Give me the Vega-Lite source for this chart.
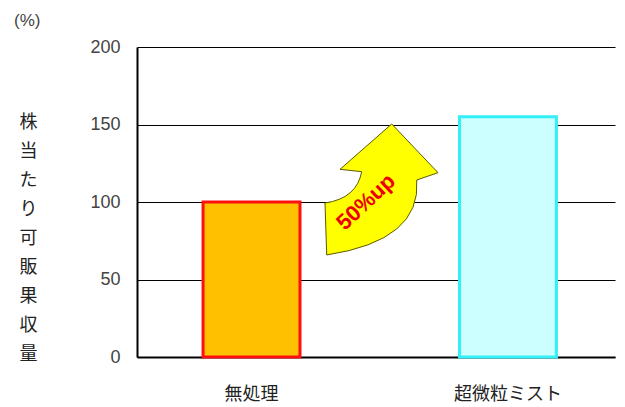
{
  "$schema": "https://vega.github.io/schema/vega-lite/v6.json",
  "autosize": {"type": "none"},
  "width": 478,
  "height": 310,
  "padding": {"left": 137, "top": 47, "right": 10, "bottom": 50},
  "background": "white",
  "config": {"view": {"stroke": null}, "font": "Noto Sans CJK JP"},
  "title": {"text": "(%)", "anchor": "start", "frame": "group", "dx": -123, "offset": 8, "fontSize": 17, "fontWeight": "normal", "color": "#444444", "font": "Liberation Sans"},
  "datasets": {
    "bars": [
      {"treatment": "無処理", "value": 100},
      {"treatment": "超微粒ミスト", "value": 155}
    ],
    "arrow": [
      {"label": "50%up", "ax": 0.5126, "ay": 108.4, "tx": 0.479, "ty": 100}
    ]
  },
  "layer": [
    {
      "data": {"name": "bars"},
      "mark": {"type": "bar", "strokeWidth": 3},
      "encoding": {
        "x": {
          "field": "treatment", "type": "nominal", "sort": null,
          "scale": {"paddingInner": 0.622, "paddingOuter": 0.243, "align": 0.53},
          "axis": {"title": null, "labelAngle": 0, "ticks": false, "domainColor": "black", "domainWidth": 2, "labelFontSize": 18, "labelColor": "#222222", "labelPadding": 28, "labelFont": "Noto Sans CJK JP"}
        },
        "y": {
          "field": "value", "type": "quantitative",
          "scale": {"domain": [0, 200]},
          "axis": {
            "values": [0, 50, 100, 150, 200],
            "grid": true, "gridColor": "black", "gridWidth": 1, "gridOpacity": 1,
            "ticks": false, "domainColor": "black", "domainWidth": 2,
            "labelFontSize": 18, "labelColor": "#444444", "labelPadding": 17, "labelFont": "Liberation Sans",
            "title": ["株", "当", "た", "り", "可", "販", "果", "収", "量"],
            "titleAngle": 0, "titleAlign": "center", "titleBaseline": "top",
            "titleX": -109, "titleY": 66, "titleFontSize": 18, "titleFontWeight": "normal",
            "titleLineHeight": 29, "titleColor": "#222222", "titleFont": "Noto Sans CJK JP"
          }
        },
        "color": {"field": "treatment", "type": "nominal", "sort": null, "scale": {"range": ["#FFC000", "#CCFFFF"]}, "legend": null},
        "stroke": {"field": "treatment", "type": "nominal", "sort": null, "scale": {"range": ["#FF1010", "#33F0F8"]}, "legend": null}
      }
    },
    {
      "data": {"name": "arrow"},
      "mark": {
        "type": "point", "filled": true, "opacity": 1,
        "shape": "M0.147,-0.985 L0.848,-0.247 L0.526,-0.136 Q0.6,0.78 -0.838,1 L-0.864,0.212 Q-0.385,0.145 -0.308,-0.262 L-0.636,-0.298 Z",
        "size": 17424, "color": "#FFFF00", "stroke": "#5a5a00", "strokeWidth": 1
      },
      "encoding": {
        "x": {"field": "ax", "type": "quantitative", "scale": {"domain": [0, 1]}, "axis": null},
        "y": {"field": "ay", "type": "quantitative"}
      }
    },
    {
      "data": {"name": "arrow"},
      "mark": {"type": "text", "angle": -43, "fontSize": 22, "fontWeight": "bold", "color": "#EE0000", "font": "Liberation Sans", "align": "center", "baseline": "middle"},
      "encoding": {
        "x": {"field": "tx", "type": "quantitative", "scale": {"domain": [0, 1]}, "axis": null},
        "y": {"field": "ty", "type": "quantitative"},
        "text": {"field": "label"}
      }
    }
  ],
  "resolve": {"scale": {"x": "independent", "y": "shared"}}
}
